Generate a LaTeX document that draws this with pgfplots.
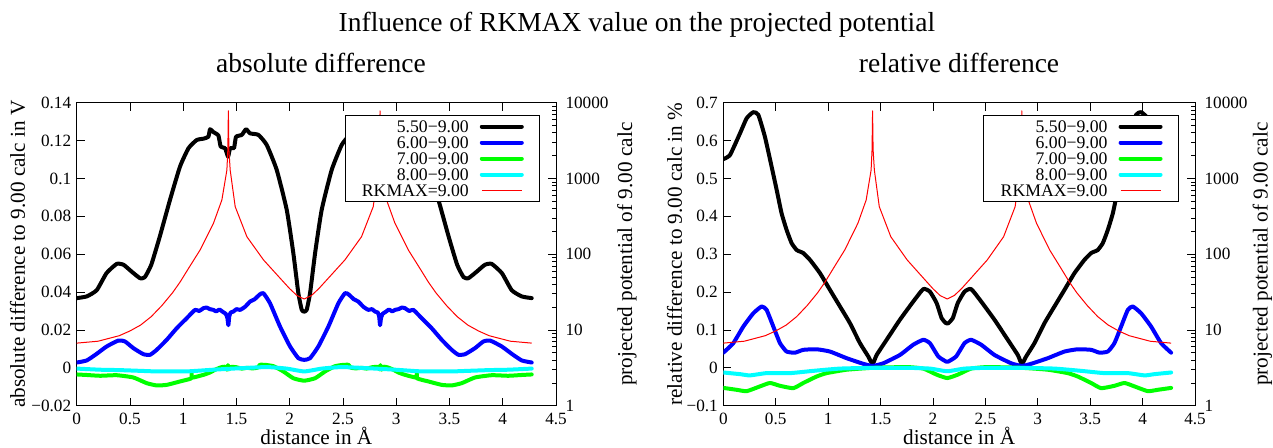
\documentclass[border=0pt]{standalone}
\usepackage{fontspec}
\setmainfont{Liberation Serif}
\usepackage{pgfplots}
\usepackage{pgfplotstable}
\pgfplotsset{compat=1.18}

\definecolor{gpblue}{rgb}{0,0,1}
\definecolor{gpgreen}{rgb}{0,1,0}
\definecolor{gpcyan}{rgb}{0,1,1}
\definecolor{gpred}{rgb}{1,0,0}

% projected potential of the RKMAX=9.00 run (right log axis, both panels)
\pgfplotstableread{
x v
0.000 6.7
0.200 7.1
0.400 8.4
0.500 9.7
0.600 11.6
0.700 15
0.800 21
0.900 31
0.971 43
1.050 65
1.159 114
1.284 256
1.363 520
1.410 1290
1.419 2400
1.424 7800
1.429 2400
1.441 1290
1.488 424
1.598 170
1.754 84
1.911 48
2.000 35
2.068 28.5
2.136 25.6
2.204 28.5
2.272 35
2.361 48
2.518 84
2.674 170
2.784 424
2.831 1290
2.843 2400
2.848 7800
2.853 2400
2.862 1290
2.909 520
2.988 256
3.113 114
3.222 65
3.301 43
3.372 31
3.472 21
3.572 15
3.672 11.6
3.772 9.7
3.872 8.4
4.072 7.1
4.272 6.7
}\potential

% --- absolute difference [V] ---
\pgfplotstableread{
x y
0.000 0.0368
0.094 0.0377
0.188 0.0410
0.280 0.0500
0.376 0.0549
0.440 0.0544
0.516 0.0508
0.595 0.0473
0.640 0.0479
0.700 0.0544
0.780 0.0693
0.876 0.0887
0.970 0.1063
1.050 0.1160
1.127 0.1203
1.190 0.1210
1.236 0.1220
1.252 0.1260
1.283 0.1245
1.330 0.1227
1.352 0.1168
1.393 0.1160
1.421 0.1115
1.440 0.1160
1.477 0.1160
1.496 0.1220
1.550 0.1230
1.590 0.1260
1.628 0.1238
1.706 0.1230
1.784 0.1177
1.878 0.1045
1.972 0.0834
2.034 0.0605
2.081 0.0394
2.113 0.0306
2.136 0.0297
2.159 0.0306
2.191 0.0394
2.238 0.0605
2.300 0.0834
2.394 0.1045
2.488 0.1177
2.566 0.1230
2.644 0.1238
2.682 0.1260
2.722 0.1230
2.776 0.1220
2.795 0.1160
2.832 0.1160
2.851 0.1115
2.879 0.1160
2.920 0.1168
2.942 0.1227
2.989 0.1245
3.020 0.1260
3.036 0.1220
3.082 0.1210
3.145 0.1203
3.222 0.1160
3.302 0.1063
3.396 0.0887
3.492 0.0693
3.572 0.0544
3.632 0.0479
3.677 0.0473
3.756 0.0508
3.832 0.0544
3.896 0.0549
3.992 0.0500
4.084 0.0410
4.178 0.0377
4.272 0.0368
}\absA

\pgfplotstableread{
x y
0.000 0.0028
0.094 0.0039
0.188 0.0074
0.282 0.0113
0.391 0.0144
0.454 0.0139
0.532 0.0104
0.626 0.0072
0.689 0.0069
0.751 0.0095
0.845 0.0148
0.939 0.0209
1.033 0.0262
1.111 0.0306
1.150 0.0300
1.190 0.0315
1.220 0.0318
1.250 0.0310
1.283 0.0306
1.310 0.0298
1.340 0.0308
1.370 0.0296
1.400 0.0285
1.415 0.0262
1.424 0.0225
1.432 0.0270
1.445 0.0292
1.471 0.0297
1.500 0.0310
1.534 0.0306
1.580 0.0322
1.628 0.0350
1.670 0.0362
1.720 0.0388
1.753 0.0394
1.815 0.0341
1.909 0.0218
2.003 0.0113
2.081 0.0051
2.136 0.0042
2.191 0.0051
2.269 0.0113
2.363 0.0218
2.457 0.0341
2.519 0.0394
2.552 0.0388
2.602 0.0362
2.644 0.0350
2.692 0.0322
2.738 0.0306
2.772 0.0310
2.801 0.0297
2.827 0.0292
2.840 0.0270
2.848 0.0225
2.857 0.0262
2.872 0.0285
2.902 0.0296
2.932 0.0308
2.962 0.0298
2.989 0.0306
3.022 0.0310
3.052 0.0318
3.082 0.0315
3.122 0.0300
3.161 0.0306
3.239 0.0262
3.333 0.0209
3.427 0.0148
3.521 0.0095
3.583 0.0069
3.646 0.0072
3.740 0.0104
3.818 0.0139
3.881 0.0144
3.990 0.0113
4.084 0.0074
4.178 0.0039
4.272 0.0028
}\absB

\pgfplotstableread{
x y
0.000 -0.0035
0.100 -0.0038
0.220 -0.0042
0.376 -0.0039
0.532 -0.0051
0.657 -0.0081
0.751 -0.0093
0.845 -0.0090
0.970 -0.0072
1.075 -0.0056
1.079 -0.0030
1.083 -0.0052
1.190 -0.0037
1.250 -0.0025
1.300 -0.0010
1.350 0.0002
1.390 0.0006
1.410 -0.0010
1.420 0.0014
1.430 -0.0008
1.450 0.0005
1.500 0.0003
1.550 -0.0004
1.600 0.0000
1.650 -0.0003
1.700 0.0001
1.720 0.0016
1.780 0.0015
1.850 0.0008
1.940 -0.0019
2.034 -0.0055
2.136 -0.0068
2.238 -0.0055
2.332 -0.0019
2.422 0.0008
2.492 0.0015
2.552 0.0016
2.572 0.0001
2.622 -0.0003
2.672 0.0000
2.722 -0.0004
2.772 0.0003
2.822 0.0005
2.842 -0.0008
2.852 0.0014
2.862 -0.0010
2.882 0.0006
2.922 0.0002
2.972 -0.0010
3.022 -0.0025
3.082 -0.0037
3.189 -0.0052
3.193 -0.0030
3.197 -0.0056
3.302 -0.0072
3.427 -0.0090
3.521 -0.0093
3.615 -0.0081
3.740 -0.0051
3.896 -0.0039
4.052 -0.0042
4.172 -0.0038
4.272 -0.0035
}\absC

\pgfplotstableread{
x y
0.000 -0.0004
0.220 -0.0010
0.400 -0.0012
0.600 -0.0016
0.750 -0.0019
1.030 -0.0019
1.280 -0.0010
1.470 -0.0004
1.780 0.0004
1.970 -0.0004
2.136 -0.0019
2.302 -0.0004
2.492 0.0004
2.802 -0.0004
2.992 -0.0010
3.242 -0.0019
3.522 -0.0019
3.672 -0.0016
3.872 -0.0012
4.052 -0.0010
4.272 -0.0004
}\absD

% --- relative difference [%] ---
\pgfplotstableread{
x y
0.000 0.551
0.064 0.562
0.159 0.619
0.223 0.659
0.286 0.675
0.334 0.668
0.397 0.610
0.461 0.531
0.509 0.470
0.556 0.408
0.604 0.364
0.652 0.329
0.700 0.311
0.731 0.307
0.763 0.303
0.827 0.285
0.922 0.250
1.017 0.206
1.113 0.162
1.208 0.118
1.304 0.065
1.383 0.030
1.424 0.010
1.463 0.034
1.558 0.074
1.685 0.127
1.812 0.175
1.908 0.208
1.971 0.201
2.035 0.171
2.083 0.131
2.124 0.118
2.136 0.117
2.148 0.118
2.189 0.131
2.237 0.171
2.301 0.201
2.364 0.208
2.460 0.175
2.587 0.127
2.714 0.074
2.809 0.034
2.848 0.010
2.889 0.030
2.968 0.065
3.064 0.118
3.159 0.162
3.255 0.206
3.350 0.250
3.445 0.285
3.509 0.303
3.541 0.307
3.572 0.311
3.620 0.329
3.668 0.364
3.716 0.408
3.763 0.470
3.811 0.531
3.875 0.610
3.938 0.668
3.986 0.675
4.049 0.659
4.113 0.619
4.208 0.562
4.272 0.551
}\relA

\pgfplotstableread{
x y
0.000 0.040
0.095 0.065
0.191 0.109
0.286 0.144
0.366 0.162
0.413 0.153
0.477 0.109
0.541 0.065
0.604 0.043
0.684 0.040
0.763 0.0475
0.890 0.049
1.017 0.043
1.176 0.0255
1.336 0.0106
1.424 0.005
1.526 0.012
1.685 0.034
1.812 0.061
1.908 0.074
1.971 0.065
2.051 0.030
2.124 0.0167
2.136 0.016
2.148 0.0167
2.221 0.030
2.301 0.065
2.364 0.074
2.460 0.061
2.587 0.034
2.746 0.012
2.848 0.005
2.936 0.0106
3.096 0.0255
3.255 0.043
3.382 0.049
3.509 0.0475
3.588 0.040
3.668 0.043
3.731 0.065
3.795 0.109
3.859 0.153
3.906 0.162
3.986 0.144
4.081 0.109
4.177 0.065
4.272 0.040
}\relB

\pgfplotstableread{
x y
0.000 -0.053
0.127 -0.058
0.223 -0.0616
0.350 -0.049
0.445 -0.040
0.541 -0.0475
0.668 -0.0537
0.763 -0.040
0.890 -0.023
0.986 -0.014
1.176 -0.005
1.424 0.000
1.749 0.002
1.908 -0.002
2.035 -0.018
2.136 -0.027
2.237 -0.018
2.364 -0.002
2.523 0.002
2.848 0.000
3.096 -0.005
3.286 -0.014
3.382 -0.023
3.509 -0.040
3.604 -0.0537
3.731 -0.0475
3.827 -0.040
3.922 -0.049
4.049 -0.0616
4.145 -0.058
4.272 -0.053
}\relC

\pgfplotstableread{
x y
0.000 -0.0123
0.159 -0.0167
0.254 -0.020
0.413 -0.014
0.636 -0.014
0.858 -0.008
1.113 -0.002
1.424 0.000
1.749 0.000
1.971 -0.002
2.136 -0.009
2.301 -0.002
2.523 0.000
2.848 0.000
3.159 -0.002
3.414 -0.008
3.636 -0.014
3.859 -0.014
4.018 -0.020
4.113 -0.0167
4.272 -0.0123
}\relD

\pgfplotsset{
  panel/.style={
    scale only axis, height=303pt,
    xmin=0, xmax=4.5,
    tick align=inside,
    major tick length=8pt, minor tick length=4pt,
    every tick/.style={black, line width=0.8pt},
    axis line style={black, line width=1pt},
    tick label style={font=\fontsize{17.2}{17.2}\selectfont},
    label style={font=\fontsize{21.2}{21.2}\selectfont, inner sep=0pt},
  },
  lin panel/.style={
    panel,
    xtick={0,0.5,1,1.5,2,2.5,3,3.5,4,4.5},
    xticklabels={0,0.5,1,1.5,2,2.5,3,3.5,4,4.5},
    xtick pos=both, ytick pos=left,
    xticklabel style={yshift=-3.5pt},
    yticklabel style={xshift=-2pt},
    xlabel={distance in Å},
    xlabel style={at={(axis description cs:0.5,-0.128)}, anchor=base},
    title style={anchor=base, font=\fontsize{27.5}{27.5}\selectfont},
  },
  log panel/.style={
    panel,
    ymin=1, ymax=10000,
    axis x line=none, axis y line*=right,
    tick align=inside,
    ytick={1,10,100,1000,10000},
    yticklabels={1,10,100,1000,10000},
    minor ytick={2,3,4,5,6,7,8,9,20,30,40,50,60,70,80,90,200,300,400,500,600,700,800,900,2000,3000,4000,5000,6000,7000,8000,9000},
    yticklabel style={xshift=6pt},
    ylabel={projected potential of 9.00 calc},
    legend cell align=right,
    legend plot pos=right,
    legend image code/.code={\draw[##1] (0pt,0pt) -- (40pt,0pt);},
    legend style={
      at={(rel axis cs:0.967,0.959)}, anchor=north east,
      draw=black, line width=0.8pt, fill=white,
      font=\fontsize{17.7}{17.7}\selectfont,
      inner xsep=16pt, inner ysep=4pt,
      row sep=2pt, column sep=10pt,
      nodes={inner sep=1pt, text height=12pt, text depth=0pt},
    },
  },
  curve/.style={line width=4pt, line join=round, line cap=round, smooth, tension=0.3},
  s55/.style={curve, black},
  s60/.style={curve, gpblue},
  s70/.style={curve, gpgreen},
  s80/.style={curve, gpcyan},
  s90/.style={gpred, line width=1pt, line join=round},
}

\begin{document}
\begin{tikzpicture}
\path[use as bounding box] (0pt,0pt) rectangle (1273pt,447pt);

\node[anchor=base, font=\fontsize{27.5}{27.5}\selectfont] at (636.9pt,415.3pt)
  {Influence of RKMAX value on the projected potential};

% ---------- left panel: absolute difference ----------
\begin{axis}[lin panel,
    at={(76.7pt,41.3pt)}, anchor=south west, width=479.3pt,
    ymin=-0.02, ymax=0.14,
    ytick={-0.02,0,0.02,0.04,0.06,0.08,0.1,0.12,0.14},
    yticklabels={−0.02,0,0.02,0.04,0.06,0.08,0.1,0.12,0.14},
    ylabel={absolute difference to 9.00 calc in V},
    ylabel style={at={(axis description cs:-0.1079,0.5)}, anchor=base},
    title={absolute difference},
    title style={at={(axis description cs:0.5096,1.0805)}},
  ]
  \addplot[s55] table {\absA};
  \addplot[s60] table {\absB};
  \addplot[s70] table {\absC};
  \addplot[s80] table {\absD};
\end{axis}
\begin{semilogyaxis}[log panel,
    at={(76.7pt,41.3pt)}, anchor=south west, width=479.3pt,
    ylabel style={at={(axis description cs:1.1587,0.5)}, anchor=base},
  ]
  \addlegendimage{s55}\addlegendentry{5.50−9.00}
  \addlegendimage{s60}\addlegendentry{6.00−9.00}
  \addlegendimage{s70}\addlegendentry{7.00−9.00}
  \addlegendimage{s80}\addlegendentry{8.00−9.00}
  \addplot[s90] table[y=v] {\potential};
  \addlegendentry{RKMAX=9.00}
\end{semilogyaxis}

% ---------- right panel: relative difference ----------
\begin{axis}[lin panel,
    at={(723.3pt,41.3pt)}, anchor=south west, width=471.7pt,
    ymin=-0.1, ymax=0.7,
    ytick={-0.1,0,0.1,0.2,0.3,0.4,0.5,0.6,0.7},
    yticklabels={−0.1,0,0.1,0.2,0.3,0.4,0.5,0.6,0.7},
    ylabel={relative difference to 9.00 calc in \%},
    ylabel style={at={(axis description cs:-0.0876,0.5)}, anchor=base},
    title={relative difference},
    title style={at={(axis description cs:0.4997,1.0805)}},
  ]
  \addplot[s55] table {\relA};
  \addplot[s60] table {\relB};
  \addplot[s70] table {\relC};
  \addplot[s80] table {\relD};
\end{axis}
\begin{semilogyaxis}[log panel,
    at={(723.3pt,41.3pt)}, anchor=south west, width=471.7pt,
    ylabel style={at={(axis description cs:1.1537,0.5)}, anchor=base},
    legend style={at={(rel axis cs:0.966,0.959)}},
  ]
  \addlegendimage{s55}\addlegendentry{5.50−9.00}
  \addlegendimage{s60}\addlegendentry{6.00−9.00}
  \addlegendimage{s70}\addlegendentry{7.00−9.00}
  \addlegendimage{s80}\addlegendentry{8.00−9.00}
  \addplot[s90] table[y=v] {\potential};
  \addlegendentry{RKMAX=9.00}
\end{semilogyaxis}
\end{tikzpicture}
\end{document}
